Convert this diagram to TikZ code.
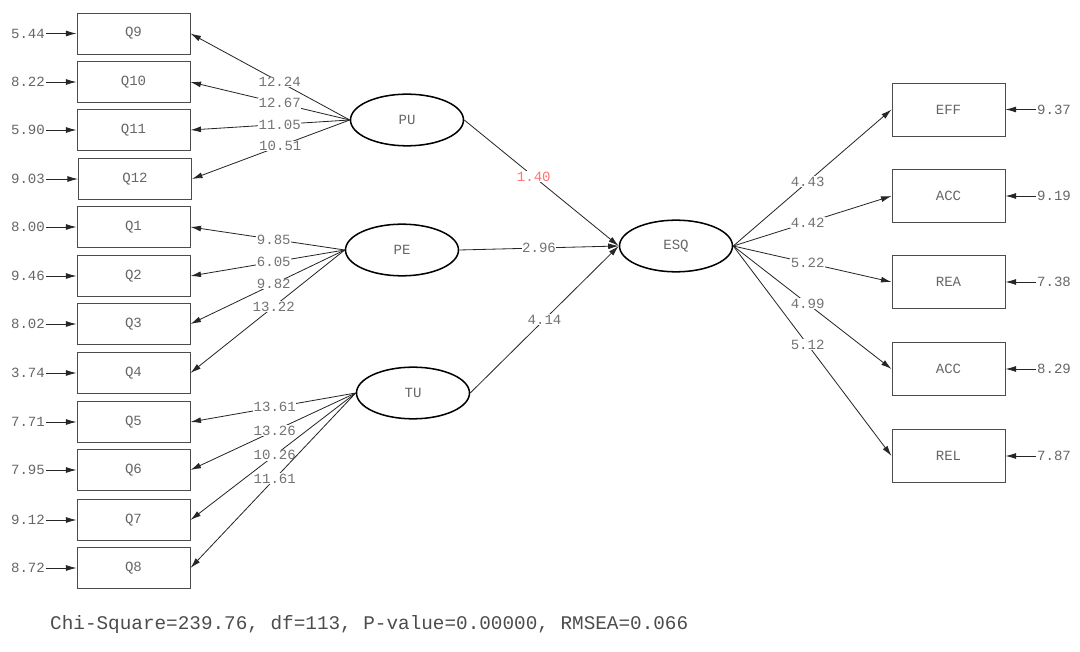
\documentclass[tikz,border=0pt]{standalone}
\usepackage{fontspec}
\setmainfont{Liberation Mono}
\usepackage{xcolor}
\usetikzlibrary{shapes.geometric}
\usetikzlibrary{arrows.meta}

\begin{document}
\begin{tikzpicture}[x=0.03cm,y=-0.03cm,>={Latex[length=9pt,width=5pt]},
  obs/.style={draw=black!70,line width=0.8pt,minimum width=3.39cm,minimum height=1.23cm,inner sep=0pt,font=\fontsize{12}{12}\selectfont,text=black!60},
  ind/.style={obs,minimum height=1.59cm},
  lat/.style={draw=black,ellipse,line width=1.3pt,minimum width=3.39cm,minimum height=1.55cm,inner sep=0pt,font=\fontsize{12}{12}\selectfont,text=black!60},
  err/.style={inner sep=1pt,font=\fontsize{12}{12}\selectfont,text=black!60},
  lab/.style={fill=white,inner sep=0.5pt,font=\fontsize{12}{12}\selectfont,text=black!55},
  path/.style={->,draw=black!85,line width=0.7pt}]
  \useasboundingbox (0,0) rectangle (1080,652);

  % items, left column
  \node[obs] (q9) at (133.5,33.5) {Q9};
  \node[obs] (q10) at (133.5,82) {Q10};
  \node[obs] (q11) at (133.5,130) {Q11};
  \node[obs] (q12) at (135,179) {Q12};
  \node[obs] (q1) at (133.5,227) {Q1};
  \node[obs] (q2) at (133.5,276) {Q2};
  \node[obs] (q3) at (133.5,324) {Q3};
  \node[obs] (q4) at (133.5,373) {Q4};
  \node[obs] (q5) at (133.5,422) {Q5};
  \node[obs] (q6) at (133.5,470) {Q6};
  \node[obs] (q7) at (133.5,520) {Q7};
  \node[obs] (q8) at (133.5,568) {Q8};

  % error terms, left
  \node[err] (e9) at (28,33.5) {5.44};
  \node[err] (e10) at (28,82) {8.22};
  \node[err] (e11) at (28,130) {5.90};
  \node[err] (e12) at (28,179) {9.03};
  \node[err] (e1) at (28,227) {8.00};
  \node[err] (e2) at (28,276) {9.46};
  \node[err] (e3) at (28,324) {8.02};
  \node[err] (e4) at (28,373) {3.74};
  \node[err] (e5) at (28,422) {7.71};
  \node[err] (e6) at (28,470) {7.95};
  \node[err] (e7) at (28,520) {9.12};
  \node[err] (e8) at (28,568) {8.72};
  \draw[path] (e9) -- (q9);
  \draw[path] (e10) -- (q10);
  \draw[path] (e11) -- (q11);
  \draw[path] (e12) -- (q12);
  \draw[path] (e1) -- (q1);
  \draw[path] (e2) -- (q2);
  \draw[path] (e3) -- (q3);
  \draw[path] (e4) -- (q4);
  \draw[path] (e5) -- (q5);
  \draw[path] (e6) -- (q6);
  \draw[path] (e7) -- (q7);
  \draw[path] (e8) -- (q8);

  % latent variables
  \node[lat] (pu) at (407,120) {PU};
  \node[lat] (pe) at (402,250) {PE};
  \node[lat] (tu) at (413,393) {TU};
  \node[lat] (esq) at (676,246) {ESQ};

  % loadings
  \draw[path] (pu.west) -- node[lab,pos=0.44] {12.24} (q9.east);
  \draw[path] (pu.west) -- node[lab,pos=0.44] {12.67} (q10.east);
  \draw[path] (pu.west) -- node[lab,pos=0.44] {11.05} (q11.east);
  \draw[path] (pu.west) -- node[lab,pos=0.44] {10.51} (q12.east);
  \draw[path] (pe.west) -- node[lab,pos=0.46] {9.85} (q1.east);
  \draw[path] (pe.west) -- node[lab,pos=0.46] {6.05} (q2.east);
  \draw[path] (pe.west) -- node[lab,pos=0.46] {9.82} (q3.east);
  \draw[path] (pe.west) -- node[lab,pos=0.46] {13.22} (q4.east);
  \draw[path] (tu.west) -- node[lab,pos=0.49] {13.61} (q5.east);
  \draw[path] (tu.west) -- node[lab,pos=0.49] {13.26} (q6.east);
  \draw[path] (tu.west) -- node[lab,pos=0.49] {10.26} (q7.east);
  \draw[path] (tu.west) -- node[lab,pos=0.49] {11.61} (q8.east);

  % structural paths
  \draw[path] (pu.east) -- node[lab,pos=0.45,text=red!55] {1.40} (esq.west);
  \draw[path] (pe.east) -- node[lab,pos=0.5] {2.96} (esq.west);
  \draw[path] (tu.east) -- node[lab,pos=0.5] {4.14} (esq.west);

  % indicators, right column
  \node[ind] (eff) at (948.5,109.5) {EFF};
  \node[ind] (acc) at (948.5,196) {ACC};
  \node[ind] (rea) at (948.5,282) {REA};
  \node[ind] (acb) at (948.5,369) {ACC};
  \node[ind] (rel) at (948.5,456) {REL};
  \draw[path] (esq.east) -- node[lab,pos=0.47] {4.43} (eff.west);
  \draw[path] (esq.east) -- node[lab,pos=0.47] {4.42} (acc.west);
  \draw[path] (esq.east) -- node[lab,pos=0.47] {5.22} (rea.west);
  \draw[path] (esq.east) -- node[lab,pos=0.47] {4.99} (acb.west);
  \draw[path] (esq.east) -- node[lab,pos=0.47] {5.12} (rel.west);

  % error terms, right
  \node[err] (reff) at (1054,109.5) {9.37};
  \node[err] (racc) at (1054,196) {9.19};
  \node[err] (rrea) at (1054,282) {7.38};
  \node[err] (racb) at (1054,369) {8.29};
  \node[err] (rrel) at (1054,456) {7.87};
  \draw[path] (reff) -- (eff);
  \draw[path] (racc) -- (acc);
  \draw[path] (rrea) -- (rea);
  \draw[path] (racb) -- (acb);
  \draw[path] (rrel) -- (rel);

  \node[anchor=west,inner sep=0pt,font=\fontsize{16.5}{16.5}\selectfont,text=black!70] (fit) at (50,625) {Chi-Square=239.76, df=113, P-value=0.00000, RMSEA=0.066};
\end{tikzpicture}
\end{document}
